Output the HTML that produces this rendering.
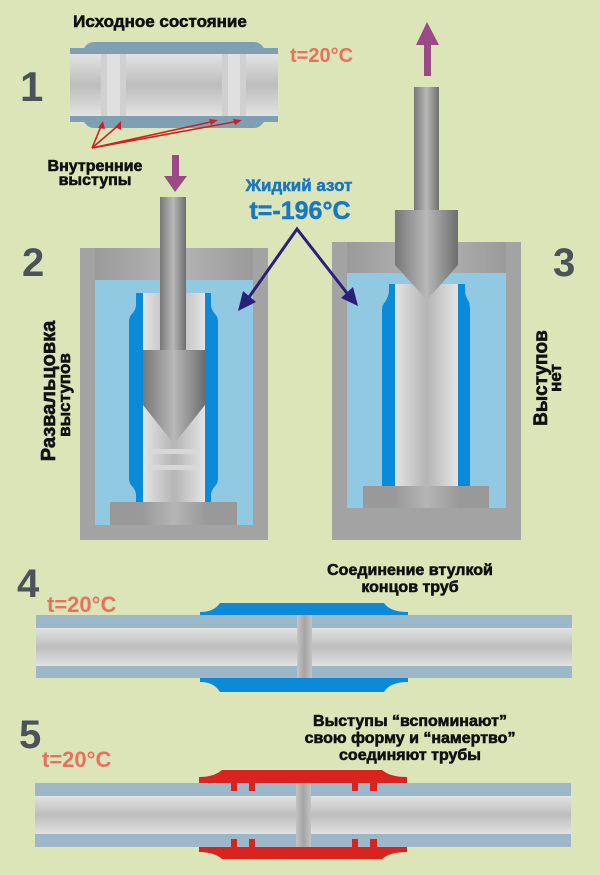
<!DOCTYPE html>
<html><head><meta charset="utf-8"><style>
html,body{margin:0;padding:0;background:#dbe5b8}
svg{display:block}
text{font-family:"Liberation Sans","DejaVu Sans",sans-serif;font-weight:bold}
</style></head><body>
<svg width="600" height="875" viewBox="0 0 600 875" xmlns="http://www.w3.org/2000/svg">
<defs>
<linearGradient id="pv" x1="0" y1="0" x2="0" y2="1">
<stop offset="0" stop-color="#e2e2e2"/><stop offset="0.5" stop-color="#bdbdbd"/><stop offset="1" stop-color="#e2e2e2"/></linearGradient>
<linearGradient id="ph" x1="0" y1="0" x2="1" y2="0">
<stop offset="0" stop-color="#e4e4e4"/><stop offset="0.5" stop-color="#b5b5b5"/><stop offset="1" stop-color="#e4e4e4"/></linearGradient>
<linearGradient id="rod" x1="0" y1="0" x2="1" y2="0">
<stop offset="0" stop-color="#777"/><stop offset="0.5" stop-color="#b8b8b8"/><stop offset="1" stop-color="#6e6e6e"/></linearGradient>
<linearGradient id="cap" x1="0" y1="0" x2="1" y2="0">
<stop offset="0" stop-color="#9a9a9a"/><stop offset="0.5" stop-color="#b5b5b5"/><stop offset="1" stop-color="#9a9a9a"/></linearGradient>
</defs>

<!-- Section 1 -->
<text x="160" y="27" font-size="17" font-weight="bold" text-anchor="middle" fill="#111" stroke="#111" stroke-width="0.6">Исходное состояние</text>
<text x="20" y="101" font-size="42" font-weight="bold" fill="#4b525a">1</text>
<text x="290" y="62" font-size="20" font-weight="bold" fill="#e8705e">t=20°C</text>
<path d="M70 48 H84 Q88 42 94 42 H254 Q260 42 264 48 H278 V122 H264 Q260 128 254 128 H94 Q88 128 84 122 H70 Z" fill="#7f9fb5"/>
<rect x="70" y="54" width="208" height="62" fill="url(#pv)"/>
<rect x="107" y="54" width="13" height="62" fill="#e0e0e0"/>
<rect x="228" y="54" width="12" height="62" fill="#e0e0e0"/>
<rect x="101" y="54" width="6" height="62" fill="#d0d0d0"/>
<rect x="120" y="54" width="6" height="62" fill="#d0d0d0"/>
<rect x="222" y="54" width="6" height="62" fill="#d0d0d0"/>
<rect x="240" y="54" width="6" height="62" fill="#d0d0d0"/>
<g stroke="#d02020" stroke-width="1.6" fill="#d02020">
<line x1="92" y1="148" x2="102" y2="124"/><line x1="92" y1="148" x2="120" y2="124"/>
<line x1="92" y1="148" x2="215" y2="121"/><line x1="92" y1="148" x2="239" y2="121"/>
<polygon points="103,121 98,128 105,129" stroke="none"/>
<polygon points="121,121 115,127 121,130" stroke="none"/>
<polygon points="218,120 209,119 211,125" stroke="none"/>
<polygon points="242,120 233,119 235,125" stroke="none"/>
</g>
<text x="95" y="171" font-size="16" font-weight="bold" text-anchor="middle" fill="#111" stroke="#111" stroke-width="0.6">Внутренние</text>
<text x="95" y="185" font-size="16" font-weight="bold" text-anchor="middle" fill="#111" stroke="#111" stroke-width="0.6">выступы</text>
<rect x="172" y="155" width="7" height="22" fill="#9b4a86"/>
<polygon points="164,176 187,176 175,192" fill="#9b4a86"/>

<text x="299" y="191" font-size="17" font-weight="bold" text-anchor="middle" fill="#1a78c2" stroke="#1a78c2" stroke-width="0.5">Жидкий азот</text>
<text x="300" y="219" font-size="25" font-weight="bold" text-anchor="middle" fill="#1a78c2" stroke="#1a78c2" stroke-width="0.5">t=-196°C</text>

<!-- Panel 2 -->
<text x="22" y="276" font-size="40" font-weight="bold" fill="#4b525a">2</text>
<text transform="translate(55,391) rotate(-90)" font-size="20" font-weight="bold" text-anchor="middle" fill="#111" stroke="#111" stroke-width="0.6">Развальцовка</text>
<text transform="translate(70,395) rotate(-90)" font-size="17" font-weight="bold" text-anchor="middle" fill="#111" stroke="#111" stroke-width="0.6">выступов</text>
<rect x="80" y="248" width="188" height="292" fill="#a3a3a3"/>
<rect x="95" y="248" width="158" height="32" fill="url(#cap)"/>
<rect x="95" y="280" width="158" height="245" fill="#92c9e2"/>
<path d="M136 293 H211 V305 Q211 310 216 315 Q218 318 218 322 V478 Q218 482 216 485 Q211 490 211 495 V502 H136 V495 Q136 490 131 485 Q129 482 129 478 V322 Q129 318 131 315 Q136 310 136 305 Z" fill="#0a8ad8"/>
<rect x="143" y="293" width="62" height="210" fill="url(#ph)"/>
<rect x="136" y="447" width="7" height="6" fill="#0a8ad8"/><rect x="205" y="447" width="7" height="6" fill="#0a8ad8"/>
<rect x="136" y="465" width="7" height="6" fill="#0a8ad8"/><rect x="205" y="465" width="7" height="6" fill="#0a8ad8"/>
<rect x="148" y="449" width="52" height="5" fill="#d8d8d8"/><rect x="148" y="465" width="52" height="5" fill="#d8d8d8"/>
<rect x="160" y="197" width="26" height="155" fill="url(#rod)"/>
<rect x="143" y="350" width="62" height="55" fill="url(#rod)"/>
<polygon points="143,405 205,405 174,444" fill="url(#rod)"/>
<rect x="110" y="502" width="127" height="23" fill="#999"/>
<rect x="143" y="502" width="62" height="23" fill="url(#cap)"/>

<!-- Panel 3 -->
<text x="553" y="276" font-size="40" font-weight="bold" fill="#4b525a">3</text>
<text transform="translate(547,378) rotate(-90)" font-size="19" font-weight="bold" text-anchor="middle" fill="#111" stroke="#111" stroke-width="0.6">Выступов</text>
<text transform="translate(561,378) rotate(-90)" font-size="17" font-weight="bold" text-anchor="middle" fill="#111" stroke="#111" stroke-width="0.6">нет</text>
<rect x="332" y="242" width="189" height="298" fill="#a3a3a3"/>
<rect x="347" y="242" width="159" height="31" fill="url(#cap)"/>
<rect x="347" y="273" width="159" height="235" fill="#92c9e2"/>
<path d="M389 284 H465 V290 Q465 296 469 302 Q470 305 470 310 V488 Q470 492 469 494 Q465 500 465 506 V507 H389 V506 Q389 500 385 494 Q382 492 382 488 V310 Q382 305 385 302 Q389 296 389 290 Z" fill="#0a8ad8"/>
<rect x="395" y="284" width="63" height="222" fill="url(#ph)"/>
<rect x="363" y="486" width="126" height="22" fill="#999"/>
<rect x="395" y="486" width="63" height="22" fill="url(#cap)"/>
<rect x="414" y="87" width="25" height="125" fill="url(#rod)"/>
<rect x="395" y="210" width="63" height="55" fill="url(#rod)"/>
<polygon points="395,265 458,265 427,300" fill="url(#rod)"/>
<rect x="424" y="42" width="7" height="34" fill="#9b4a86"/>
<polygon points="416,45 439,45 427,22" fill="#9b4a86"/>

<!-- navy arrows on top -->
<g stroke="#2b1f7a" stroke-width="3" fill="none">
<polyline points="247,300 297,229 350,297"/></g>
<polygon points="238,311 243,291 256,302" fill="#2b1f7a"/>
<polygon points="358,306 341,298 353,287" fill="#2b1f7a"/>

<!-- Section 4 -->
<text x="17" y="597" font-size="40" font-weight="bold" fill="#4b525a">4</text>
<text x="47" y="612" font-size="22" font-weight="bold" fill="#e8705e">t=20°C</text>
<text x="410" y="575" font-size="16" font-weight="bold" text-anchor="middle" fill="#111" stroke="#111" stroke-width="0.6">Соединение втулкой</text>
<text x="410" y="592" font-size="16" font-weight="bold" text-anchor="middle" fill="#111" stroke="#111" stroke-width="0.6">концов труб</text>
<path d="M200 615 V612 Q214 612 220 603 H384 Q390 612 408 612 V615 Z" fill="#0a8ad8"/>
<path d="M200 678 V682 Q214 682 220 692 H384 Q390 682 408 682 V678 Z" fill="#0a8ad8"/>
<rect x="36" y="615" width="536" height="13" fill="#9bb7c8"/>
<rect x="36" y="666" width="536" height="12" fill="#9bb7c8"/>
<rect x="36" y="628" width="536" height="38" fill="url(#pv)"/>
<rect x="297" y="615" width="15" height="63" fill="url(#ph)"/>
<rect x="297" y="615" width="15" height="63" fill="#888" opacity="0.35"/>

<!-- Section 5 -->
<text x="19" y="748" font-size="40" font-weight="bold" fill="#4b525a">5</text>
<text x="42" y="767" font-size="22" font-weight="bold" fill="#e8705e">t=20°C</text>
<text x="410" y="726" font-size="16" font-weight="bold" text-anchor="middle" fill="#111" stroke="#111" stroke-width="0.6">Выступы “вспоминают”</text>
<text x="410" y="743" font-size="16" font-weight="bold" text-anchor="middle" fill="#111" stroke="#111" stroke-width="0.6">свою форму и “намертво”</text>
<text x="410" y="760" font-size="16" font-weight="bold" text-anchor="middle" fill="#111" stroke="#111" stroke-width="0.6">соединяют трубы</text>
<rect x="35" y="783" width="536" height="13" fill="#9bb7c8"/>
<rect x="35" y="834" width="536" height="13" fill="#9bb7c8"/>
<rect x="35" y="796" width="536" height="38" fill="url(#pv)"/>
<rect x="296" y="783" width="15" height="64" fill="url(#ph)"/>
<rect x="296" y="783" width="15" height="64" fill="#888" opacity="0.35"/>
<path d="M199 783 V777 Q214 777 222 770 H382 Q390 777 407 777 V783 H377 V791 H370 V783 H358 V791 H352 V783 H255 V791 H249 V783 H237 V791 H231 V783 Z" fill="#d8231f"/>
<path d="M199 847 V852 Q214 852 222 859 H382 Q390 852 407 852 V847 H377 V839 H370 V847 H358 V839 H352 V847 H255 V839 H249 V847 H237 V839 H231 V847 Z" fill="#d8231f"/>
</svg>
</body></html>
